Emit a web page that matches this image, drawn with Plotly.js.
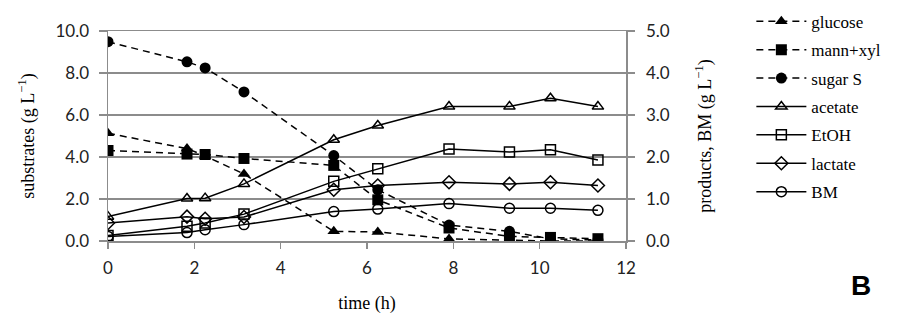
<!DOCTYPE html>
<html>
<head>
<meta charset="utf-8">
<script src="https://cdn.plot.ly/plotly-3.0.1.min.js"></script>
<style>html,body{margin:0;padding:0;background:#fff;}#chart{width:899px;height:317px;}</style>
</head>
<body>
<div id="chart"></div>
<script>
// time (h)
const time = [0, 1.83, 2.25, 3.15, 5.23, 6.25, 7.9, 9.3, 10.25, 11.35];
// substrates (g/L), left axis
const glucose = [5.13, 4.40, 4.05, 3.19, 0.46, 0.43, 0.10, 0.05, 0.0, 0.0];
const mannXyl = [4.31, 4.14, 4.12, 3.93, 3.60, 1.96, 0.62, 0.22, 0.17, 0.11];
const sugarS  = [9.49, 8.53, 8.24, 7.10, 4.07, 2.44, 0.76, 0.46, 0.10, 0.05];
// products, BM (g/L), right axis
const acetate = [0.58, 1.01, 1.02, 1.36, 2.41, 2.75, 3.20, 3.20, 3.40, 3.20];
const etoh    = [0.13, 0.35, 0.43, 0.64, 1.42, 1.72, 2.19, 2.12, 2.17, 1.93];
const lactate = [0.43, 0.58, 0.53, 0.57, 1.22, 1.32, 1.40, 1.36, 1.40, 1.32];
const bm      = [0.11, 0.20, 0.27, 0.39, 0.70, 0.76, 0.89, 0.78, 0.78, 0.73];

const names = ['glucose', 'mann+xyl', 'sugar S', 'acetate', 'EtOH', 'lactate', 'BM'];
const series = [glucose, mannXyl, sugarS, acetate, etoh, lactate, bm];
const symbols = ['triangle-up', 'square', 'circle', 'triangle-up-open', 'square-open', 'diamond-open', 'circle-open'];
const dashed = [true, true, true, false, false, false, false];
const axes = ['y', 'y', 'y', 'y2', 'y2', 'y2', 'y2'];

const traces = series.map((vals, i) => ({
  x: time, y: vals, name: names[i], yaxis: axes[i],
  type: 'scatter', mode: 'lines+markers',
  legendgroup: 'g' + i,
  line: {color: '#000', width: 1.5, dash: dashed[i] ? '7px,5px' : 'solid'},
  marker: {symbol: symbols[i], color: '#000', size: dashed[i] ? 11 : 10,
           line: {color: '#000', width: dashed[i] ? 0 : 1.5}}
}));

const gridC = '#8c8c8c';
const tickFont = {family: 'Lato, "Noto Sans", sans-serif', size: 17, color: '#222'};
const titleFont = {family: '"Liberation Serif", "DejaVu Serif", serif', size: 18, color: '#000'};

const layout = {
  width: 899, height: 317,
  margin: {l: 108, r: 273, t: 31, b: 76, autoexpand: false},
  paper_bgcolor: '#fff', plot_bgcolor: '#fff',
  showlegend: true,
  legend: {x: 1.242, y: 1.13, xanchor: 'left', yanchor: 'top',
           traceorder: 'grouped', tracegroupgap: 3.3, maxheight: 330,
           font: {family: '"Liberation Serif", serif', size: 17, color: '#000'},
           bgcolor: 'rgba(0,0,0,0)', itemwidth: 50},
  xaxis: {range: [0, 12], dtick: 2, tick0: 0, showgrid: false, zeroline: false,
          showline: true, mirror: true, linecolor: gridC, linewidth: 1.5,
          ticks: 'outside', ticklen: 6, tickcolor: gridC, tickwidth: 1.5,
          tickfont: tickFont, ticklabelstandoff: 5,
          title: {text: 'time (h)', font: titleFont, standoff: 19}},
  yaxis: {range: [0, 10], dtick: 2, tick0: 0, tickformat: '.1f',
          showgrid: true, gridcolor: gridC, gridwidth: 1.5, zeroline: false,
          showline: true, linecolor: gridC, linewidth: 1.5,
          ticks: 'outside', ticklen: 8, tickcolor: gridC, tickwidth: 1.5,
          tickfont: tickFont, ticklabelstandoff: 6,
          title: {text: 'substrates (g L<sup>−1</sup>)', font: titleFont, standoff: 16}},
  yaxis2: {range: [0, 5], dtick: 1, tick0: 0, tickformat: '.1f',
           overlaying: 'y', side: 'right', showgrid: false, zeroline: false,
           showline: true, linecolor: gridC, linewidth: 1.5,
           ticks: 'outside', ticklen: 7, tickcolor: gridC, tickwidth: 1.5,
           tickfont: tickFont, ticklabelstandoff: 8,
           title: {text: 'products, BM (g L<sup>−1</sup>)', font: titleFont, standoff: 29}},
  annotations: [{text: '<b>B</b>', xref: 'paper', yref: 'paper', x: (861 - 108) / 518, y: (241 - 285) / 210,
                 xanchor: 'center', yanchor: 'middle', showarrow: false,
                 font: {family: '"Liberation Sans", Arial, sans-serif', size: 28, color: '#000'}}]
};

Plotly.newPlot('chart', traces, layout, {displayModeBar: false, staticPlot: true});
</script>
</body>
</html>
